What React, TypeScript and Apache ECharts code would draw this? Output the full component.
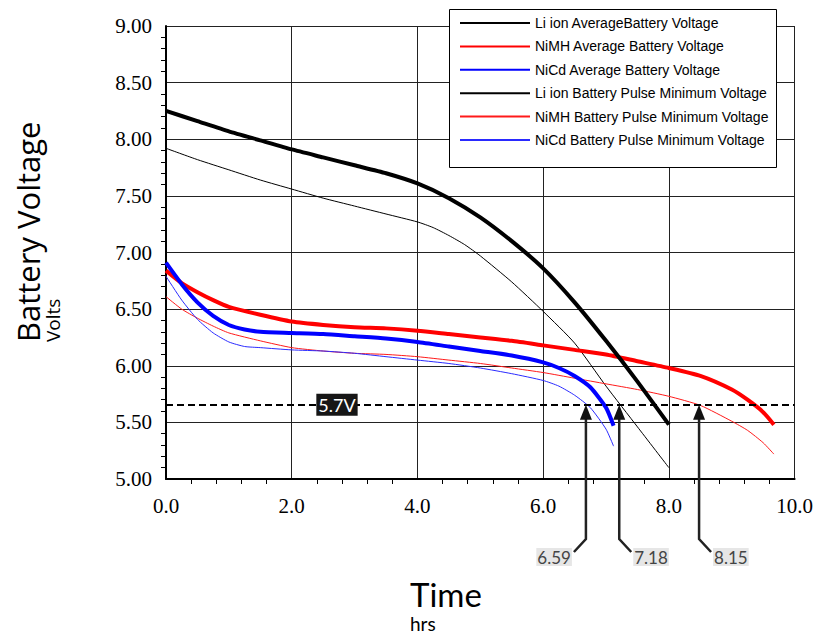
import React, { useEffect, useRef } from "react";
import * as echarts from "echarts";

// ---- data ----
const liAvgT = [0, 0.5, 1.0, 1.5, 2.0, 2.5, 3.0, 3.5, 4.0, 4.5, 5.0, 5.5, 6.0, 6.5, 7.0, 7.5, 8.0];
const liAvgV = [8.25, 8.16, 8.07, 7.99, 7.91, 7.84, 7.77, 7.7, 7.61, 7.48, 7.31, 7.1, 6.86, 6.56, 6.22, 5.86, 5.48];

const liPulseT = [0, 0.5, 1.0, 1.5, 2.0, 2.5, 3.0, 3.5, 4.0, 4.25, 4.5, 4.75, 5.0, 5.5, 6.0, 6.5, 7.0, 7.5, 8.0];
const liPulseV = [7.92, 7.82, 7.73, 7.64, 7.56, 7.48, 7.41, 7.34, 7.27, 7.22, 7.15, 7.07, 6.97, 6.74, 6.48, 6.2, 5.82, 5.46, 5.1];

const nimhAvgT = [0, 0.25, 0.5, 0.75, 1.0, 1.5, 2.0, 2.5, 3.0, 3.5, 4.0, 4.5, 5.0, 5.5, 6.0, 6.5, 7.0, 7.5, 8.0, 8.5, 9.0, 9.25, 9.5, 9.67];
const nimhAvgV = [6.84, 6.73, 6.65, 6.58, 6.52, 6.45, 6.39, 6.36, 6.34, 6.33, 6.31, 6.28, 6.25, 6.22, 6.18, 6.14, 6.1, 6.04, 5.98, 5.91, 5.79, 5.7, 5.59, 5.48];

const nimhPulseT = [0, 0.25, 0.5, 0.75, 1.0, 1.5, 2.0, 2.5, 3.0, 3.5, 4.0, 4.5, 5.0, 5.5, 6.0, 6.5, 7.0, 7.5, 8.0, 8.5, 9.0, 9.25, 9.5, 9.67];
const nimhPulseV = [6.61, 6.5, 6.42, 6.35, 6.29, 6.22, 6.16, 6.13, 6.11, 6.1, 6.08, 6.05, 6.02, 5.98, 5.94, 5.89, 5.84, 5.79, 5.73, 5.65, 5.51, 5.43, 5.32, 5.22];

const nicdAvgT = [0, 0.25, 0.5, 0.75, 1.0, 1.25, 1.5, 2.0, 2.5, 3.0, 3.5, 4.0, 4.5, 5.0, 5.5, 6.0, 6.25, 6.5, 6.75, 7.0, 7.12];
const nicdAvgV = [6.91, 6.72, 6.56, 6.44, 6.36, 6.32, 6.3, 6.29, 6.28, 6.26, 6.24, 6.21, 6.17, 6.13, 6.09, 6.03, 5.98, 5.91, 5.81, 5.63, 5.47];

const nicdPulseT = [0, 0.25, 0.5, 0.75, 1.0, 1.25, 1.5, 2.0, 2.5, 3.0, 3.5, 4.0, 4.5, 5.0, 5.5, 6.0, 6.25, 6.5, 6.75, 7.0, 7.12];
const nicdPulseV = [6.79, 6.58, 6.41, 6.29, 6.21, 6.17, 6.16, 6.14, 6.13, 6.11, 6.08, 6.05, 6.02, 5.98, 5.93, 5.87, 5.82, 5.74, 5.63, 5.44, 5.29];

const seriesNames = [
  "Li ion AverageBattery Voltage",
  "NiMH Average Battery Voltage",
  "NiCd Average Battery Voltage",
  "Li ion Battery Pulse Minimum Voltage",
  "NiMH Battery Pulse Minimum Voltage",
  "NiCd Battery Pulse Minimum Voltage",
];

const thresholdV = 5.656;
const thresholdLabel = "5.7V";
const thresholdLabelX = 2.72;

const arrowX = [6.68, 7.21, 8.48];
const arrowLabels = ["6.59", "7.18", "8.15"];
const arrowSide = ["left", "right", "right"];

const xTicks = { min: 0, max: 10, interval: 2 };
const yTicks = { min: 5, max: 9, interval: 0.5 };

function pairs(t: number[], v: number[]) {
  return t.map((x, i) => [x, v[i]]);
}

export default function App() {
  const ref = useRef<HTMLDivElement>(null);
  useEffect(() => {
    if (!ref.current) return;
    const chart = echarts.init(ref.current, undefined, { renderer: "svg" });

    const mk = (name: string, t: number[], v: number[], color: string, width: number, z: number, extra: any = {}) => ({
      name,
      type: "line",
      data: pairs(t, v),
      symbol: "none",
      showSymbol: false,
      smooth: 0.2,
      z,
      lineStyle: { color, width },
      itemStyle: { color },
      ...extra,
    });

    const option: any = {
      animation: false,
      backgroundColor: "#fff",
      grid: { left: 166, right: 18, top: 26, bottom: 157 },
      xAxis: {
        type: "value",
        min: xTicks.min,
        max: xTicks.max,
        interval: xTicks.interval,
        axisLine: { show: true, onZero: false, lineStyle: { color: "#000", width: 2 } },
        axisTick: { show: false },
        minorTick: { show: true, splitNumber: 5, length: 5, lineStyle: { color: "#000", width: 1 } },
        splitLine: { show: true, lineStyle: { color: "#222", width: 1 } },
        axisLabel: {
          margin: 16,
          color: "#000",
          fontFamily: "Liberation Serif",
          fontSize: 21,
          formatter: (v: number) => v.toFixed(1),
        },
      },
      yAxis: {
        type: "value",
        min: yTicks.min,
        max: yTicks.max,
        interval: yTicks.interval,
        axisLine: { show: true, lineStyle: { color: "#000", width: 2 } },
        axisTick: { show: false },
        minorTick: { show: true, splitNumber: 5, length: 5, lineStyle: { color: "#000", width: 1 } },
        splitLine: { show: true, lineStyle: { color: "#222", width: 1 } },
        axisLabel: {
          margin: 14,
          color: "#000",
          fontFamily: "Liberation Serif",
          fontSize: 21,
          formatter: (v: number) => v.toFixed(2),
        },
      },
      legend: {
        orient: "vertical",
        left: 459,
        top: 16,
        padding: 0,
        itemWidth: 70,
        itemHeight: 14,
        itemGap: 9.4,
        selectedMode: false,
        data: seriesNames,
        itemStyle: { opacity: 0, borderWidth: 0 },
        textStyle: { fontFamily: "Liberation Sans", fontSize: 14, color: "#000" },
        z: 20,
      },
      graphic: [
        {
          type: "rect",
          left: 449,
          top: 9,
          shape: { width: 327, height: 158 },
          style: { fill: "#fff", stroke: "#000", lineWidth: 1 },
          z: 10,
        },
        {
          type: "text",
          x: 43,
          y: 342,
          rotation: Math.PI / 2,
          style: { text: "Battery Voltage", font: "31px 'Open Sans'", fill: "#000", textAlign: "left", textVerticalAlign: "bottom" },
        },
        {
          type: "text",
          x: 62,
          y: 342,
          rotation: Math.PI / 2,
          style: { text: "Volts", font: "19px 'Open Sans'", fill: "#000", textAlign: "left", textVerticalAlign: "bottom" },
        },
        {
          type: "text",
          x: 410,
          y: 577,
          style: { text: "Time", font: "33px Lato", fill: "#000", textAlign: "left", textVerticalAlign: "top" },
        },
        {
          type: "text",
          x: 410,
          y: 614,
          style: { text: "hrs", font: "19px Lato", fill: "#000", textAlign: "left", textVerticalAlign: "top" },
        },
      ],
      series: [
        mk(seriesNames[0], liAvgT, liAvgV, "#000", 4, 5, {
          markLine: {
            silent: true,
            symbol: "none",
            label: { show: false },
            lineStyle: { color: "#000", width: 2, type: [7, 4] },
            data: [{ yAxis: thresholdV }],
          },
          markPoint: {
            symbol: "rect",
            symbolSize: 0,
            data: [{ coord: [thresholdLabelX, thresholdV], value: thresholdLabel }],
            label: {
              show: true,
              position: "inside",
              formatter: thresholdLabel,
              color: "#fff",
              backgroundColor: "#161616",
              padding: [3, 2, 1, 2],
              fontFamily: "Lato",
              fontSize: 18,
            },
          },
        }),
        mk(seriesNames[1], nimhAvgT, nimhAvgV, "#ff0000", 4, 4),
        mk(seriesNames[2], nicdAvgT, nicdAvgV, "#0000ff", 4, 4),
        mk(seriesNames[3], liPulseT, liPulseV, "#000", 1, 3),
        mk(seriesNames[4], nimhPulseT, nimhPulseV, "#ff1a1a", 1, 3),
        mk(seriesNames[5], nicdPulseT, nicdPulseV, "#2a2aff", 1, 3),
        {
          name: "arrows",
          type: "custom",
          clip: false,
          z: 6,
          data: arrowX.map((x, i) => [x, thresholdV, i]),
          renderItem: (params: any, api: any) => {
            const x = api.value(0);
            const i = api.value(2);
            const tip = api.coord([x, api.value(1)]);
            const base = api.coord([x, yTicks.min]);
            const bottomY = base[1] + 60;
            const dir = arrowSide[i] === "left" ? -1 : 1;
            const endX = tip[0] + dir * 12;
            const endY = bottomY + 13;
            return {
              type: "group",
              children: [
                {
                  type: "polyline",
                  shape: { points: [[tip[0], tip[1] + 12], [tip[0], bottomY], [endX, endY]] },
                  style: { stroke: "#222", lineWidth: 2.5, fill: null },
                },
                {
                  type: "polygon",
                  shape: { points: [[tip[0], tip[1]], [tip[0] - 6, tip[1] + 15], [tip[0] + 6, tip[1] + 15]] },
                  style: { fill: "#111" },
                },
                {
                  type: "text",
                  x: endX + dir * 2,
                  y: endY + 5,
                  style: {
                    text: arrowLabels[i],
                    font: "17px Lato",
                    fill: "#444",
                    backgroundColor: "#e6e6e6",
                    padding: [1, 1, 0, 1],
                    align: dir < 0 ? "right" : "left",
                    verticalAlign: "middle",
                  },
                },
              ],
            };
          },
        },
      ],
    };
    chart.setOption(option);
    return () => chart.dispose();
  }, []);
  return <div ref={ref} style={{ position: "fixed", left: 0, top: 0, width: 816, height: 636 }} />;
}
